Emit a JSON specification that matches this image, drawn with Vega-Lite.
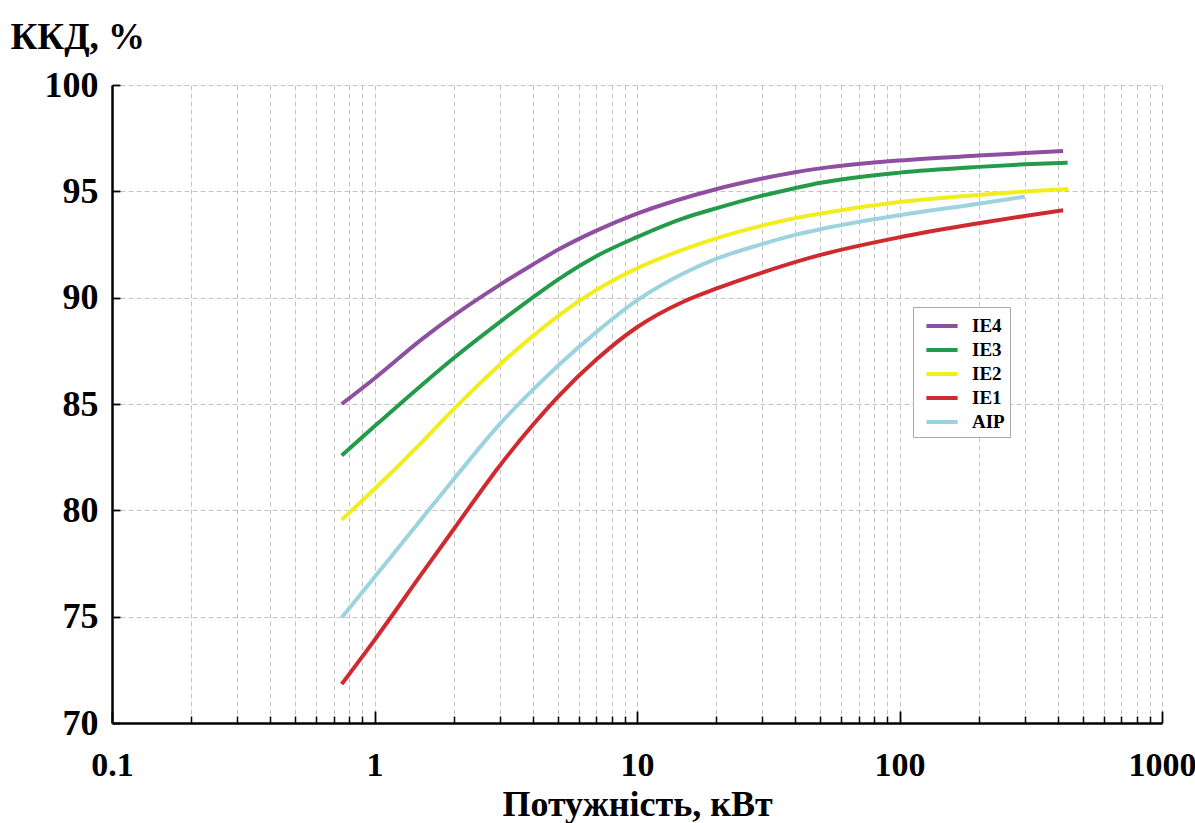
{
  "$schema": "https://vega.github.io/schema/vega-lite/v6.json",
  "width": 1050,
  "height": 638,
  "autosize": "none",
  "padding": {"left": 112, "top": 85, "right": 33, "bottom": 100},
  "background": "white",
  "config": {"view": {"stroke": null}, "font": "Liberation Serif"},
  "data": {"values": [
    {"series": "IE4", "kw": 0.75, "eff": 85.0},
    {"series": "IE4", "kw": 1, "eff": 86.2},
    {"series": "IE4", "kw": 1.5, "eff": 88.0},
    {"series": "IE4", "kw": 2, "eff": 89.15},
    {"series": "IE4", "kw": 3, "eff": 90.6},
    {"series": "IE4", "kw": 4, "eff": 91.55},
    {"series": "IE4", "kw": 5, "eff": 92.25},
    {"series": "IE4", "kw": 7, "eff": 93.15},
    {"series": "IE4", "kw": 10, "eff": 93.95},
    {"series": "IE4", "kw": 20, "eff": 95.1},
    {"series": "IE4", "kw": 30, "eff": 95.6},
    {"series": "IE4", "kw": 40, "eff": 95.9},
    {"series": "IE4", "kw": 50, "eff": 96.08},
    {"series": "IE4", "kw": 100, "eff": 96.45},
    {"series": "IE4", "kw": 200, "eff": 96.68},
    {"series": "IE4", "kw": 300, "eff": 96.8},
    {"series": "IE4", "kw": 420, "eff": 96.9},
    {"series": "IE3", "kw": 0.75, "eff": 82.58},
    {"series": "IE3", "kw": 1, "eff": 83.95},
    {"series": "IE3", "kw": 1.5, "eff": 85.85},
    {"series": "IE3", "kw": 2, "eff": 87.15},
    {"series": "IE3", "kw": 3, "eff": 88.85},
    {"series": "IE3", "kw": 4, "eff": 90.0},
    {"series": "IE3", "kw": 5, "eff": 90.85},
    {"series": "IE3", "kw": 7, "eff": 91.95},
    {"series": "IE3", "kw": 10, "eff": 92.85},
    {"series": "IE3", "kw": 15, "eff": 93.73},
    {"series": "IE3", "kw": 20, "eff": 94.2},
    {"series": "IE3", "kw": 30, "eff": 94.8},
    {"series": "IE3", "kw": 40, "eff": 95.15},
    {"series": "IE3", "kw": 50, "eff": 95.4},
    {"series": "IE3", "kw": 100, "eff": 95.88},
    {"series": "IE3", "kw": 200, "eff": 96.15},
    {"series": "IE3", "kw": 300, "eff": 96.27},
    {"series": "IE3", "kw": 437, "eff": 96.35},
    {"series": "IE2", "kw": 0.75, "eff": 79.55},
    {"series": "IE2", "kw": 1, "eff": 81.0},
    {"series": "IE2", "kw": 1.5, "eff": 83.15},
    {"series": "IE2", "kw": 2, "eff": 84.75},
    {"series": "IE2", "kw": 3, "eff": 86.85},
    {"series": "IE2", "kw": 4, "eff": 88.18},
    {"series": "IE2", "kw": 5, "eff": 89.13},
    {"series": "IE2", "kw": 7, "eff": 90.36},
    {"series": "IE2", "kw": 10, "eff": 91.38},
    {"series": "IE2", "kw": 15, "eff": 92.26},
    {"series": "IE2", "kw": 20, "eff": 92.79},
    {"series": "IE2", "kw": 30, "eff": 93.39},
    {"series": "IE2", "kw": 40, "eff": 93.74},
    {"series": "IE2", "kw": 50, "eff": 93.96},
    {"series": "IE2", "kw": 100, "eff": 94.5},
    {"series": "IE2", "kw": 200, "eff": 94.83},
    {"series": "IE2", "kw": 300, "eff": 94.99},
    {"series": "IE2", "kw": 440, "eff": 95.11},
    {"series": "IE1", "kw": 0.75, "eff": 71.83},
    {"series": "IE1", "kw": 1, "eff": 73.9},
    {"series": "IE1", "kw": 1.5, "eff": 76.95},
    {"series": "IE1", "kw": 2, "eff": 79.1},
    {"series": "IE1", "kw": 3, "eff": 82.1},
    {"series": "IE1", "kw": 4, "eff": 84.0},
    {"series": "IE1", "kw": 5, "eff": 85.34},
    {"series": "IE1", "kw": 7, "eff": 87.09},
    {"series": "IE1", "kw": 10, "eff": 88.61},
    {"series": "IE1", "kw": 15, "eff": 89.81},
    {"series": "IE1", "kw": 20, "eff": 90.42},
    {"series": "IE1", "kw": 30, "eff": 91.18},
    {"series": "IE1", "kw": 40, "eff": 91.67},
    {"series": "IE1", "kw": 50, "eff": 92.01},
    {"series": "IE1", "kw": 100, "eff": 92.84},
    {"series": "IE1", "kw": 200, "eff": 93.5},
    {"series": "IE1", "kw": 300, "eff": 93.84},
    {"series": "IE1", "kw": 420, "eff": 94.11},
    {"series": "AIP", "kw": 0.75, "eff": 74.96},
    {"series": "AIP", "kw": 1, "eff": 76.85},
    {"series": "AIP", "kw": 1.5, "eff": 79.55},
    {"series": "AIP", "kw": 2, "eff": 81.45},
    {"series": "AIP", "kw": 3, "eff": 84.05},
    {"series": "AIP", "kw": 4, "eff": 85.65},
    {"series": "AIP", "kw": 5, "eff": 86.8},
    {"series": "AIP", "kw": 7, "eff": 88.38},
    {"series": "AIP", "kw": 10, "eff": 89.87},
    {"series": "AIP", "kw": 15, "eff": 91.14},
    {"series": "AIP", "kw": 20, "eff": 91.82},
    {"series": "AIP", "kw": 30, "eff": 92.52},
    {"series": "AIP", "kw": 40, "eff": 92.95},
    {"series": "AIP", "kw": 50, "eff": 93.22},
    {"series": "AIP", "kw": 100, "eff": 93.88},
    {"series": "AIP", "kw": 200, "eff": 94.42},
    {"series": "AIP", "kw": 300, "eff": 94.75}
  ]},
  "layer": [
    {
      "mark": {"type": "line", "strokeWidth": 4, "interpolate": "monotone"},
      "encoding": {
        "x": {
          "field": "kw", "type": "quantitative",
          "scale": {"type": "log", "domain": [0.1, 1000], "nice": false},
          "axis": {
            "orient": "bottom",
            "title": "Потужність, кВт",
            "values": [0.1,0.2,0.3,0.4,0.5,0.6,0.7,0.8,0.9,1,2,3,4,5,6,7,8,9,10,20,30,40,50,60,70,80,90,100,200,300,400,500,600,700,800,900,1000],
            "labelExpr": "indexof([0.1,1,10,100,1000], datum.value) >= 0 ? format(datum.value, '~g') : ''",
            "grid": true, "gridDash": [5, 3], "gridColor": "#c4c4c4", "gridWidth": 1,
            "domainColor": "black", "domainWidth": 2.5,
            "ticks": false,
            "labelFont": "Liberation Serif", "labelFontWeight": "bold", "labelFontSize": 34, "labelColor": "black",
            "labelBaseline": "top", "labelPadding": 25,
            "labelOverlap": false, "labelFlush": false,
            "titleFont": "Liberation Serif", "titleFontSize": 36, "titleFontWeight": "bold", "titleColor": "black",
            "titlePadding": 5
          }
        },
        "y": {
          "field": "eff", "type": "quantitative",
          "scale": {"domain": [70, 100], "nice": false, "zero": false},
          "axis": {
            "orient": "left",
            "title": "ККД, %",
            "values": [70, 75, 80, 85, 90, 95, 100],
            "grid": true, "gridDash": [5, 3], "gridColor": "#c4c4c4", "gridWidth": 1,
            "domainColor": "black", "domainWidth": 2.5,
            "ticks": false,
            "labelFont": "Liberation Serif", "labelFontWeight": "bold", "labelFontSize": 36, "labelColor": "black",
            "labelPadding": 14,
            "titleFont": "Liberation Serif", "titleFontSize": 37, "titleFontWeight": "bold", "titleColor": "black",
            "titleAngle": 0, "titleAlign": "left", "titleBaseline": "alphabetic",
            "titleX": -102, "titleY": -37
          }
        },
        "color": {
          "field": "series", "type": "nominal",
          "scale": {"domain": ["IE4", "IE3", "IE2", "IE1", "AIP"], "range": ["#8f4fa0", "#239b4b", "#f2ee1e", "#cf2a30", "#9dd3de"]},
          "legend": {
            "orient": "none", "legendX": 801, "legendY": 222, "title": null,
            "symbolType": "M-1.3,0H1.3", "symbolSize": 576, "symbolStrokeWidth": 4, "symbolOffset": 10,
            "labelFont": "Liberation Serif", "labelFontWeight": "bold", "labelFontSize": 19, "labelColor": "black",
            "labelOffset": 16, "rowPadding": 0,
            "strokeColor": "#aaaaaa", "fillColor": "white", "padding": 5
          }
        }
      }
    },
    {
      "mark": {"type": "line", "opacity": 0},
      "encoding": {
        "x": {
          "field": "kw", "type": "quantitative",
          "axis": {
            "orient": "bottom", "title": null, "values": [0.1, 1, 10, 100, 1000],
            "labels": false, "domain": false, "grid": false,
            "ticks": true, "tickSize": 12, "tickWidth": 1.8, "tickColor": "black", "offset": -12, "zindex": 2
          }
        },
        "y": {
          "field": "eff", "type": "quantitative",
          "axis": {
            "orient": "left", "title": null, "values": [70, 75, 80, 85, 90, 95, 100],
            "labels": false, "domain": false, "grid": false,
            "ticks": true, "tickSize": 8, "tickWidth": 1.8, "tickColor": "black", "offset": -8, "zindex": 2
          }
        },
        "detail": {"field": "series"}
      }
    },
    {
      "mark": {"type": "line", "opacity": 0},
      "encoding": {
        "x": {
          "field": "kw", "type": "quantitative",
          "axis": {
            "orient": "bottom", "title": null,
            "values": [0.2,0.3,0.4,0.5,0.6,0.7,0.8,0.9,2,3,4,5,6,7,8,9,20,30,40,50,60,70,80,90,200,300,400,500,600,700,800,900],
            "labels": false, "domain": false, "grid": false,
            "ticks": true, "tickSize": 7, "tickWidth": 1.5, "tickColor": "black", "offset": -7, "zindex": 2
          }
        },
        "y": {"field": "eff", "type": "quantitative", "axis": null},
        "detail": {"field": "series"}
      }
    }
  ],
  "resolve": {"axis": {"x": "independent", "y": "independent"}}
}
